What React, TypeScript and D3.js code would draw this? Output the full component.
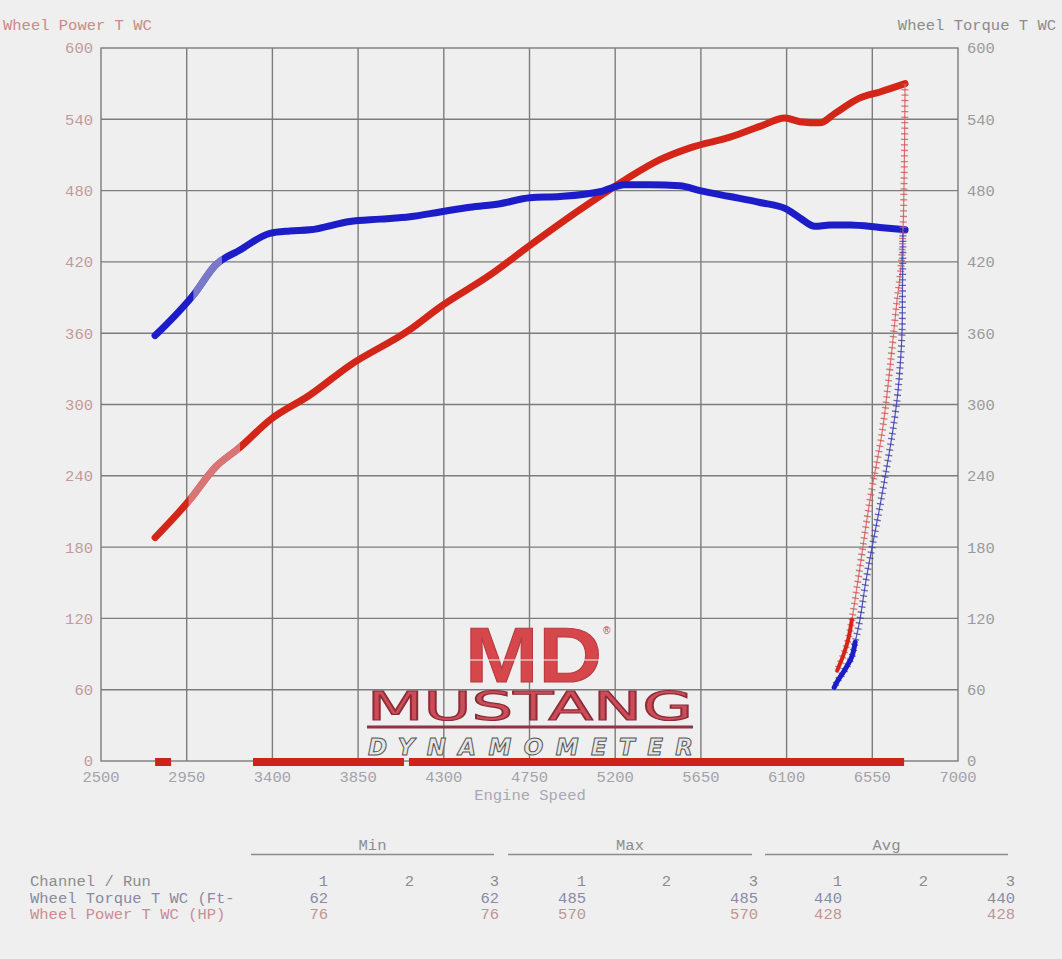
import React from 'react';
import * as d3 from 'd3';

// tick labels
const xTicks = [2500, 2950, 3400, 3850, 4300, 4750, 5200, 5650, 6100, 6550, 7000];
const yTicks = [0, 60, 120, 180, 240, 300, 360, 420, 480, 540, 600];

// pull (rising rpm)
const torqueRpm = [2784, 2994, 3099, 3230, 3387, 3492, 3597, 3807, 3965, 4122, 4280, 4437, 4595, 4753, 4910, 5120, 5251, 5383, 5540, 5645, 5803, 5960, 6092, 6170, 6249, 6328, 6433, 6590, 6722];
const torqueVals = [358, 394, 417, 430, 444, 446, 447, 454, 456, 458, 462, 466, 469, 474, 475, 479, 485, 485, 484, 480, 475, 470, 465, 457, 450, 451, 451, 449, 447];
const powerRpm = [2784, 2967, 3099, 3230, 3387, 3597, 3807, 4122, 4280, 4543, 4753, 5015, 5251, 5435, 5593, 5803, 5960, 6092, 6170, 6275, 6354, 6485, 6590, 6722];
const powerVals = [188, 220, 247, 264, 287, 308, 333, 363, 382, 409, 434, 464, 489, 506, 516, 525, 534, 541, 538, 537, 545, 558, 563, 570];

// coast-down trace
const torqueDecelRpm = [6711, 6710, 6708, 6706, 6695, 6680, 6650, 6617, 6585, 6549, 6515, 6485, 6460, 6443, 6407, 6370, 6350];
const torqueDecelVals = [447, 420, 390, 360, 330, 304, 270, 239, 210, 180, 150, 119, 100, 88, 77, 68, 62];
const powerDecelRpm = [6722, 6718, 6712, 6703, 6690, 6680, 6643, 6601, 6538, 6485, 6443, 6423, 6400, 6365];
const powerDecelVals = [570, 500, 450, 420, 400, 388, 331, 276, 220, 163, 119, 102, 90, 76];

// recording bar along the x axis
const barStart = [2784, 3298, 4117];
const barEnd = [2868, 4091, 6717];

// stats table
const runs = ['1', '2', '3'];
const statGroups = ['Min', 'Max', 'Avg'];
const torqueStats = [['62', '', '62'], ['485', '', '485'], ['440', '', '440']];
const powerStats = [['76', '', '76'], ['570', '', '570'], ['428', '', '428']];

const W = 1062;
const H = 959;
const plot = { left: 101, right: 958, top: 48, bottom: 761 };
const mono = '"Liberation Mono", "DejaVu Sans Mono", monospace';
const BLUE = '#1c1cc8';
const RED = '#d42618';

const App: React.FC = () => {
  const x = d3.scaleLinear().domain([2500, 7000]).range([plot.left, plot.right]);
  const y = d3.scaleLinear().domain([0, 600]).range([plot.bottom, plot.top]);

  const smooth = d3.line<[number, number]>().x(d => x(d[0])).y(d => y(d[1])).curve(d3.curveMonotoneX);
  const straight = d3.line<[number, number]>().x(d => x(d[0])).y(d => y(d[1])).curve(d3.curveCatmullRom);

  const torque = torqueRpm.map((r, i) => [r, torqueVals[i]] as [number, number]);
  const power = powerRpm.map((r, i) => [r, powerVals[i]] as [number, number]);
  const torqueDecel = torqueDecelRpm.map((r, i) => [r, torqueDecelVals[i]] as [number, number]);
  const powerDecel = powerDecelRpm.map((r, i) => [r, powerDecelVals[i]] as [number, number]);

  const fontSize = 15.5;
  const tableCols = [[328, 410, 499], [586, 667, 758], [842, 924, 1015]];
  const groupLines = [[251, 494], [508, 752], [765, 1008]];

  return (
    <div style={{ position: 'absolute', left: 0, top: 0, background: '#efefef' }}>
      <svg width={W} height={H} style={{ display: 'block' }} fontFamily={mono} fontSize={fontSize}>
        <rect width={W} height={H} fill="#efefef" />
        <defs>
          <clipPath id="fadeBlue">
            <rect x={x(2985)} y={0} width={x(3135) - x(2985)} height={H} />
          </clipPath>
          <clipPath id="fadeRed">
            <rect x={x(2960)} y={0} width={x(3230) - x(2960)} height={H} />
          </clipPath>
        </defs>

        {/* titles */}
        <text x={3} y={25} dy="0.35em" fill="#c88a8a">Wheel Power T WC</text>
        <text x={1056} y={25} dy="0.35em" textAnchor="end" fill="#8c8c8c">Wheel Torque T WC</text>

        {/* grid */}
        <g stroke="#7c7c7c" strokeWidth={1.4}>
          {xTicks.slice(1, -1).map(t => (
            <line key={'gx' + t} x1={x(t)} x2={x(t)} y1={plot.top} y2={plot.bottom} />
          ))}
          {yTicks.slice(1, -1).map(t => (
            <line key={'gy' + t} x1={plot.left} x2={plot.right} y1={y(t)} y2={y(t)} />
          ))}
          <rect x={plot.left} y={plot.top} width={plot.right - plot.left} height={plot.bottom - plot.top} fill="none" />
        </g>

        {/* axis labels */}
        {yTicks.map(t => (
          <text key={'yl' + t} x={93} y={y(t)} dy="0.35em" textAnchor="end" fill="#c39a9a">{t}</text>
        ))}
        {yTicks.map(t => (
          <text key={'yr' + t} x={967} y={y(t)} dy="0.35em" fill="#9a9a9a">{t}</text>
        ))}
        {xTicks.map(t => (
          <text key={'xl' + t} x={x(t)} y={777} dy="0.35em" textAnchor="middle" fill="#a2a2aa">{t}</text>
        ))}
        <text x={530} y={795} dy="0.35em" textAnchor="middle" fill="#a8a8b4">Engine Speed</text>

        {/* logo */}
        <g>
          <text x={465} y={682} fontFamily='"Liberation Sans", Arial, sans-serif' fontWeight="bold" fontSize={78}
            textLength={137} lengthAdjust="spacingAndGlyphs" fill="#d6474c" stroke="#b83a40" strokeWidth={1}>MD</text>
          <line x1={465} x2={602} y1={660} y2={660} stroke="#efefef" strokeWidth={1.5} opacity={0.7} />
          <text x={603} y={634} fontFamily='"Liberation Sans", sans-serif' fontSize={10} fill="#c04048">®</text>
          <text x={367} y={720} fontFamily='"DejaVu Sans", sans-serif' fontSize={39}
            textLength={326} lengthAdjust="spacingAndGlyphs" fill="#cc4c57" stroke="#8c2c38" strokeWidth={1.2}>MUSTANG</text>
          <rect x={367} y={725.5} width={326} height={3} fill="#8e3444" />
          <text x={368} y={755} fontFamily='"DejaVu Sans", sans-serif' fontWeight="bold" fontStyle="italic" fontSize={23}
            textLength={325} lengthAdjust="spacing" fill="#e6e6e6" stroke="#555" strokeWidth={1}>DYNAMOMETER</text>
        </g>

        {/* recording bar */}
        {barStart.map((s, i) => (
          <rect key={'bar' + i} x={x(s)} y={758} width={x(barEnd[i]) - x(s)} height={8} fill="#cc2418" />
        ))}

        {/* main pull */}
        <path d={smooth(power) || ''} fill="none" stroke={RED} strokeWidth={7} strokeLinecap="round" strokeLinejoin="round" />
        <path d={smooth(power) || ''} fill="none" stroke="#d98a90" strokeWidth={7} clipPath="url(#fadeRed)" opacity={0.8} />
        <path d={smooth(torque) || ''} fill="none" stroke={BLUE} strokeWidth={7} strokeLinecap="round" strokeLinejoin="round" />
        <path d={smooth(torque) || ''} fill="none" stroke="#8a8ac8" strokeWidth={7} clipPath="url(#fadeBlue)" opacity={0.85} />

        {/* coast-down, thin line with + marks */}
        <path d={straight(powerDecel) || ''} fill="none" stroke="#e07070" strokeWidth={1.2} />
        <path d={straight(powerDecel) || ''} fill="none" stroke="#c85050" strokeWidth={7} strokeDasharray="1.3 4.2" opacity={0.75} />
        <path d={straight(torqueDecel) || ''} fill="none" stroke="#5050c0" strokeWidth={1.2} />
        <path d={straight(torqueDecel) || ''} fill="none" stroke="#3a3a9a" strokeWidth={7} strokeDasharray="1.3 4.2" opacity={0.75} />
        <path d={straight(powerDecel.slice(-4)) || ''} fill="none" stroke={RED} strokeWidth={4} strokeLinecap="round" />
        <path d={straight(torqueDecel.slice(-5)) || ''} fill="none" stroke={BLUE} strokeWidth={5} strokeLinecap="round" />

        {/* stats table */}
        {statGroups.map((g, gi) => (
          <g key={g}>
            <text x={(groupLines[gi][0] + groupLines[gi][1]) / 2} y={845} dy="0.35em" textAnchor="middle" fill="#8c8c8c">{g}</text>
            <line x1={groupLines[gi][0]} x2={groupLines[gi][1]} y1={854.5} y2={854.5} stroke="#8c8c8c" strokeWidth={1.5} />
            {runs.map((r, ri) => (
              <text key={'r' + ri} x={tableCols[gi][ri] + (ri === 1 ? 4 : 0)} y={881} dy="0.35em" textAnchor="end" fill="#8c8c8c">{r}</text>
            ))}
            {torqueStats[gi].map((v, ri) => (
              <text key={'t' + ri} x={tableCols[gi][ri]} y={898} dy="0.35em" textAnchor="end" fill="#8a8aa6">{v}</text>
            ))}
            {powerStats[gi].map((v, ri) => (
              <text key={'p' + ri} x={tableCols[gi][ri]} y={914} dy="0.35em" textAnchor="end" fill="#c09494">{v}</text>
            ))}
          </g>
        ))}
        <text x={30} y={881} dy="0.35em" fill="#8c8c8c">Channel / Run</text>
        <text x={30} y={898} dy="0.35em" fill="#8a8aa2">Wheel Torque T WC (Ft-</text>
        <text x={30} y={914} dy="0.35em" fill="#cc8c92">Wheel Power T WC (HP)</text>
      </svg>
    </div>
  );
};

export default App;
